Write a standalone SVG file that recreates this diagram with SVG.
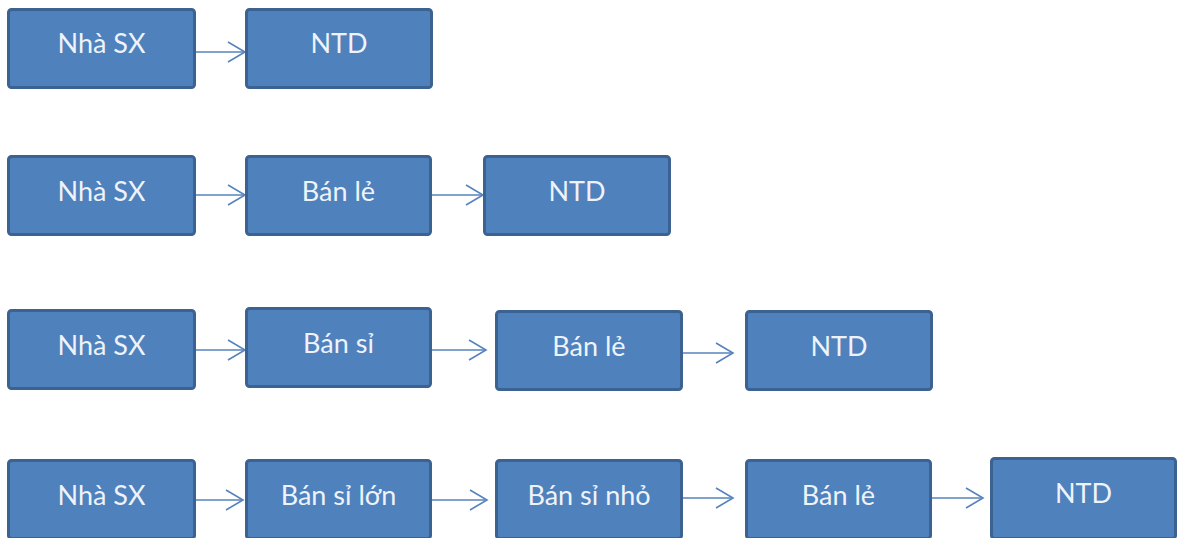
<svg xmlns="http://www.w3.org/2000/svg" width="1179" height="538" viewBox="0 0 1179 538">
<defs>
<style>
.box{fill:#4f81bd;stroke:#3b6290;stroke-width:3}
.lbl{font-family:Lato,"Open Sans",sans-serif;font-size:27px;fill:#eef3fa;text-anchor:middle}
.conn{stroke:#5683bd;stroke-width:1.6;fill:none}
</style>
<marker id="ah" markerUnits="userSpaceOnUse" markerWidth="22" markerHeight="24" refX="18" refY="11" orient="auto" viewBox="0 0 22 24">
<path d="M1,1 L18,11 L1,21" fill="none" stroke="#5683bd" stroke-width="1.6"/>
</marker>
</defs>
<rect width="1179" height="538" fill="#ffffff"/>
<g id="connectors">
<line class="conn" x1="196" y1="52" x2="245" y2="52" marker-end="url(#ah)"/>
<line class="conn" x1="196" y1="195" x2="245" y2="195" marker-end="url(#ah)"/>
<line class="conn" x1="432" y1="195" x2="483" y2="195" marker-end="url(#ah)"/>
<line class="conn" x1="196" y1="350" x2="245" y2="350" marker-end="url(#ah)"/>
<line class="conn" x1="432" y1="350" x2="486" y2="350" marker-end="url(#ah)"/>
<line class="conn" x1="683" y1="353" x2="733" y2="353" marker-end="url(#ah)"/>
<line class="conn" x1="196" y1="500" x2="243" y2="500" marker-end="url(#ah)"/>
<line class="conn" x1="432" y1="500" x2="487" y2="500" marker-end="url(#ah)"/>
<line class="conn" x1="683" y1="498" x2="733" y2="498" marker-end="url(#ah)"/>
<line class="conn" x1="932" y1="498" x2="983" y2="498" marker-end="url(#ah)"/>
</g>
<g id="r1-nhasx"><rect class="box" x="8.5" y="9.5" width="186" height="78" rx="3"/><text class="lbl" x="101.5" y="53">Nhà SX</text></g>
<g id="r1-ntd"><rect class="box" x="246.5" y="9.5" width="185" height="78" rx="3"/><text class="lbl" x="339" y="53">NTD</text></g>

<g id="r2-nhasx"><rect class="box" x="8.5" y="156.5" width="186" height="78" rx="3"/><text class="lbl" x="101.5" y="201">Nhà SX</text></g>
<g id="r2-banle"><rect class="box" x="246.5" y="156.5" width="184" height="78" rx="3"/><text class="lbl" x="338.5" y="201">Bán lẻ</text></g>
<g id="r2-ntd"><rect class="box" x="484.5" y="156.5" width="185" height="78" rx="3"/><text class="lbl" x="577" y="201">NTD</text></g>

<g id="r3-nhasx"><rect class="box" x="8.5" y="310.5" width="186" height="78" rx="3"/><text class="lbl" x="101.5" y="355">Nhà SX</text></g>
<g id="r3-bansi"><rect class="box" x="246.5" y="308.5" width="184" height="78" rx="3"/><text class="lbl" x="338.5" y="353">Bán sỉ</text></g>
<g id="r3-banle"><rect class="box" x="496.5" y="311.5" width="185" height="78" rx="3"/><text class="lbl" x="589" y="356">Bán lẻ</text></g>
<g id="r3-ntd"><rect class="box" x="746.5" y="311.5" width="185" height="78" rx="3"/><text class="lbl" x="839" y="356">NTD</text></g>

<g id="r4-nhasx"><rect class="box" x="8.5" y="460.5" width="186" height="78" rx="3"/><text class="lbl" x="101.5" y="505">Nhà SX</text></g>
<g id="r4-bansilon"><rect class="box" x="246.5" y="460.5" width="184" height="78" rx="3"/><text class="lbl" x="338.5" y="505">Bán sỉ lớn</text></g>
<g id="r4-bansinho"><rect class="box" x="496.5" y="460.5" width="185" height="78" rx="3"/><text class="lbl" x="589" y="505">Bán sỉ nhỏ</text></g>
<g id="r4-banle"><rect class="box" x="746.5" y="460.5" width="184" height="78" rx="3"/><text class="lbl" x="838.5" y="505">Bán lẻ</text></g>
<g id="r4-ntd"><rect class="box" x="991.5" y="458.5" width="184" height="80" rx="3"/><text class="lbl" x="1083.5" y="503">NTD</text></g>
</svg>
